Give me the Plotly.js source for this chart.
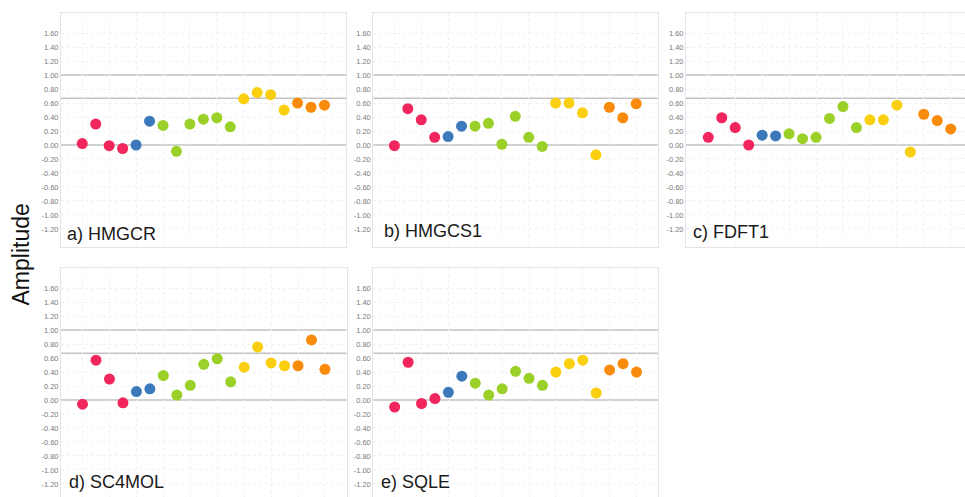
<!DOCTYPE html>
<html>
<head>
<meta charset="utf-8">
<script src="https://cdn.plot.ly/plotly-3.0.1.min.js"></script>
<style>
  html, body { margin: 0; padding: 0; background: #ffffff; }
  #chart { width: 965px; height: 497px; }
</style>
</head>
<body>
<div id="chart"></div>
<script>
// Sample positions along each panel (19 time points)
const samples = [1, 2, 3, 4, 5, 6, 7, 8, 9, 10, 11, 12, 13, 14, 15, 16, 17, 18, 19];

// Group index of each sample (drives marker colour)
const sampleGroup = [0, 0, 0, 0, 1, 1, 2, 2, 2, 2, 2, 2, 3, 3, 3, 3, 4, 4, 4];

// Gene names and labels
const genes = ['HMGCR', 'HMGCS1', 'FDFT1', 'SC4MOL', 'SQLE'];
const panelLabels = ['a) HMGCR', 'b) HMGCS1', 'c) FDFT1', 'd) SC4MOL', 'e) SQLE'];

// Amplitude values per gene
const hmgcr  = [0.02, 0.30, -0.01, -0.05, 0.00, 0.34, 0.28, -0.09, 0.30, 0.37, 0.39, 0.26, 0.66, 0.75, 0.72, 0.50, 0.60, 0.54, 0.57];
const hmgcs1 = [-0.01, 0.52, 0.36, 0.11, 0.12, 0.27, 0.27, 0.31, 0.01, 0.41, 0.11, -0.02, 0.60, 0.60, 0.46, -0.14, 0.54, 0.39, 0.59];
const fdft1  = [0.11, 0.39, 0.25, 0.00, 0.14, 0.13, 0.16, 0.09, 0.11, 0.38, 0.55, 0.25, 0.36, 0.36, 0.57, -0.10, 0.44, 0.35, 0.23];
const sc4mol = [-0.06, 0.57, 0.30, -0.04, 0.12, 0.16, 0.35, 0.07, 0.21, 0.51, 0.59, 0.26, 0.47, 0.76, 0.53, 0.49, 0.49, 0.86, 0.44];
const sqle   = [-0.10, 0.54, -0.05, 0.02, 0.11, 0.34, 0.24, 0.07, 0.16, 0.41, 0.31, 0.21, 0.40, 0.52, 0.57, 0.10, 0.43, 0.52, 0.40];

// Reference levels drawn as horizontal lines
const refLevels = [0, 0.67, 1.0];

// Y tick values
const yTicks = [-1.2, -1.0, -0.8, -0.6, -0.4, -0.2, 0, 0.2, 0.4, 0.6, 0.8, 1.0, 1.2, 1.4, 1.6];

const series = [hmgcr, hmgcs1, fdft1, sc4mol, sqle];
const palette = ['#f0265c', '#3b79ba', '#9bd028', '#f9cf10', '#f98b0c'];

// Dotted grid rows: every tick except where a solid reference line sits
const gridRows = yTicks.filter(v => !refLevels.some(r => Math.abs(r - v) < 1e-9));

// Layout geometry (pixels of the 965x497 canvas)
const W = 965, H = 497;
const panels = [
  { x0: 61,    x1: 346,   top: 13,    bottom: 247, zeroPx: 145, xr: [-0.58, 20.6],  label: [65, 234] },
  { x0: 373.3, x1: 657.7, top: 13,    bottom: 247, zeroPx: 145, xr: [-0.57, 20.6],  label: [382, 231] },
  { x0: 686,   x1: 965,   top: 13,    bottom: 247, zeroPx: 145, xr: [-0.655, 20.06], label: [691, 232] },
  { x0: 61,    x1: 346.5, top: 267.7, bottom: 497, zeroPx: 400, xr: [-0.6, 20.6],   label: [67, 482] },
  { x0: 373.3, x1: 658,   top: 267.7, bottom: 497, zeroPx: 400, xr: [-0.59, 20.6],  label: [379, 482] }
];
const pxPerUnit = 69.9;

const traces = [];
const layout = {
  width: W, height: H,
  margin: { l: 0, r: 0, t: 0, b: 0 },
  paper_bgcolor: '#ffffff',
  plot_bgcolor: '#ffffff',
  showlegend: false,
  font: { family: 'Liberation Sans, Arial, sans-serif', color: '#444' },
  shapes: [],
  annotations: []
};

panels.forEach((p, i) => {
  const n = i + 1;
  const xa = n === 1 ? 'x' : 'x' + n;
  const ya = n === 1 ? 'y' : 'y' + n;
  const xKey = n === 1 ? 'xaxis' : 'xaxis' + n;
  const yKey = n === 1 ? 'yaxis' : 'yaxis' + n;

  traces.push({
    type: 'scatter',
    mode: 'markers',
    name: genes[i],
    x: samples,
    y: series[i],
    xaxis: xa,
    yaxis: ya,
    marker: {
      size: 11,
      color: sampleGroup.map(g => palette[g]),
      line: { width: 0 }
    },
    hoverinfo: 'x+y'
  });

  const yTop = (p.zeroPx - p.top) / pxPerUnit;
  const yBot = -(p.bottom - p.zeroPx) / pxPerUnit;

  layout[xKey] = {
    domain: [p.x0 / W, p.x1 / W],
    anchor: ya,
    range: p.xr,
    showticklabels: false,
    ticks: '',
    tick0: 1,
    dtick: 2,
    showgrid: true,
    gridcolor: '#f1f1f1',
    griddash: 'dot',
    gridwidth: 1,
    zeroline: false,
    showline: true,
    linecolor: '#e4e4e4',
    linewidth: 1,
    mirror: true
  };
  layout[yKey] = {
    domain: [1 - p.bottom / H, 1 - p.top / H],
    anchor: xa,
    range: [yBot, yTop],
    tickmode: 'array',
    tickvals: yTicks,
    ticktext: yTicks.map(v => v.toFixed(2)),
    tickfont: { size: 7.5, color: '#7a7a7a', family: 'Liberation Sans, Arial, sans-serif' },
    ticks: '',
    showgrid: false,
    minor: {
      tickmode: 'array',
      tickvals: gridRows,
      ticks: '',
      showgrid: true,
      gridcolor: '#f1f1f1',
      griddash: 'dot',
      gridwidth: 1
    },
    zeroline: false,
    showline: true,
    linecolor: '#e4e4e4',
    linewidth: 1,
    mirror: true
  };

  refLevels.forEach(level => {
    layout.shapes.push({
      type: 'line',
      xref: xa + ' domain', x0: 0, x1: 1,
      yref: ya, y0: level, y1: level,
      line: { color: '#c3c3c3', width: 1.5 },
      layer: 'below'
    });
  });

  layout.annotations.push({
    text: panelLabels[i],
    xref: 'paper', yref: 'paper',
    x: p.label[0] / W, y: 1 - p.label[1] / H,
    xanchor: 'left', yanchor: 'middle',
    showarrow: false,
    font: { size: 18, color: '#1a1a1a', family: 'Liberation Sans, Arial, sans-serif' }
  });
});

layout.annotations.push({
  text: 'Amplitude',
  xref: 'paper', yref: 'paper',
  x: 21 / W, y: 1 - 254.5 / H,
  xanchor: 'center', yanchor: 'middle',
  textangle: -90,
  showarrow: false,
  font: { size: 23, color: '#111', family: 'Liberation Sans, Arial, sans-serif' }
});

Plotly.newPlot('chart', traces, layout, { displayModeBar: false, staticPlot: true });
</script>
</body>
</html>
